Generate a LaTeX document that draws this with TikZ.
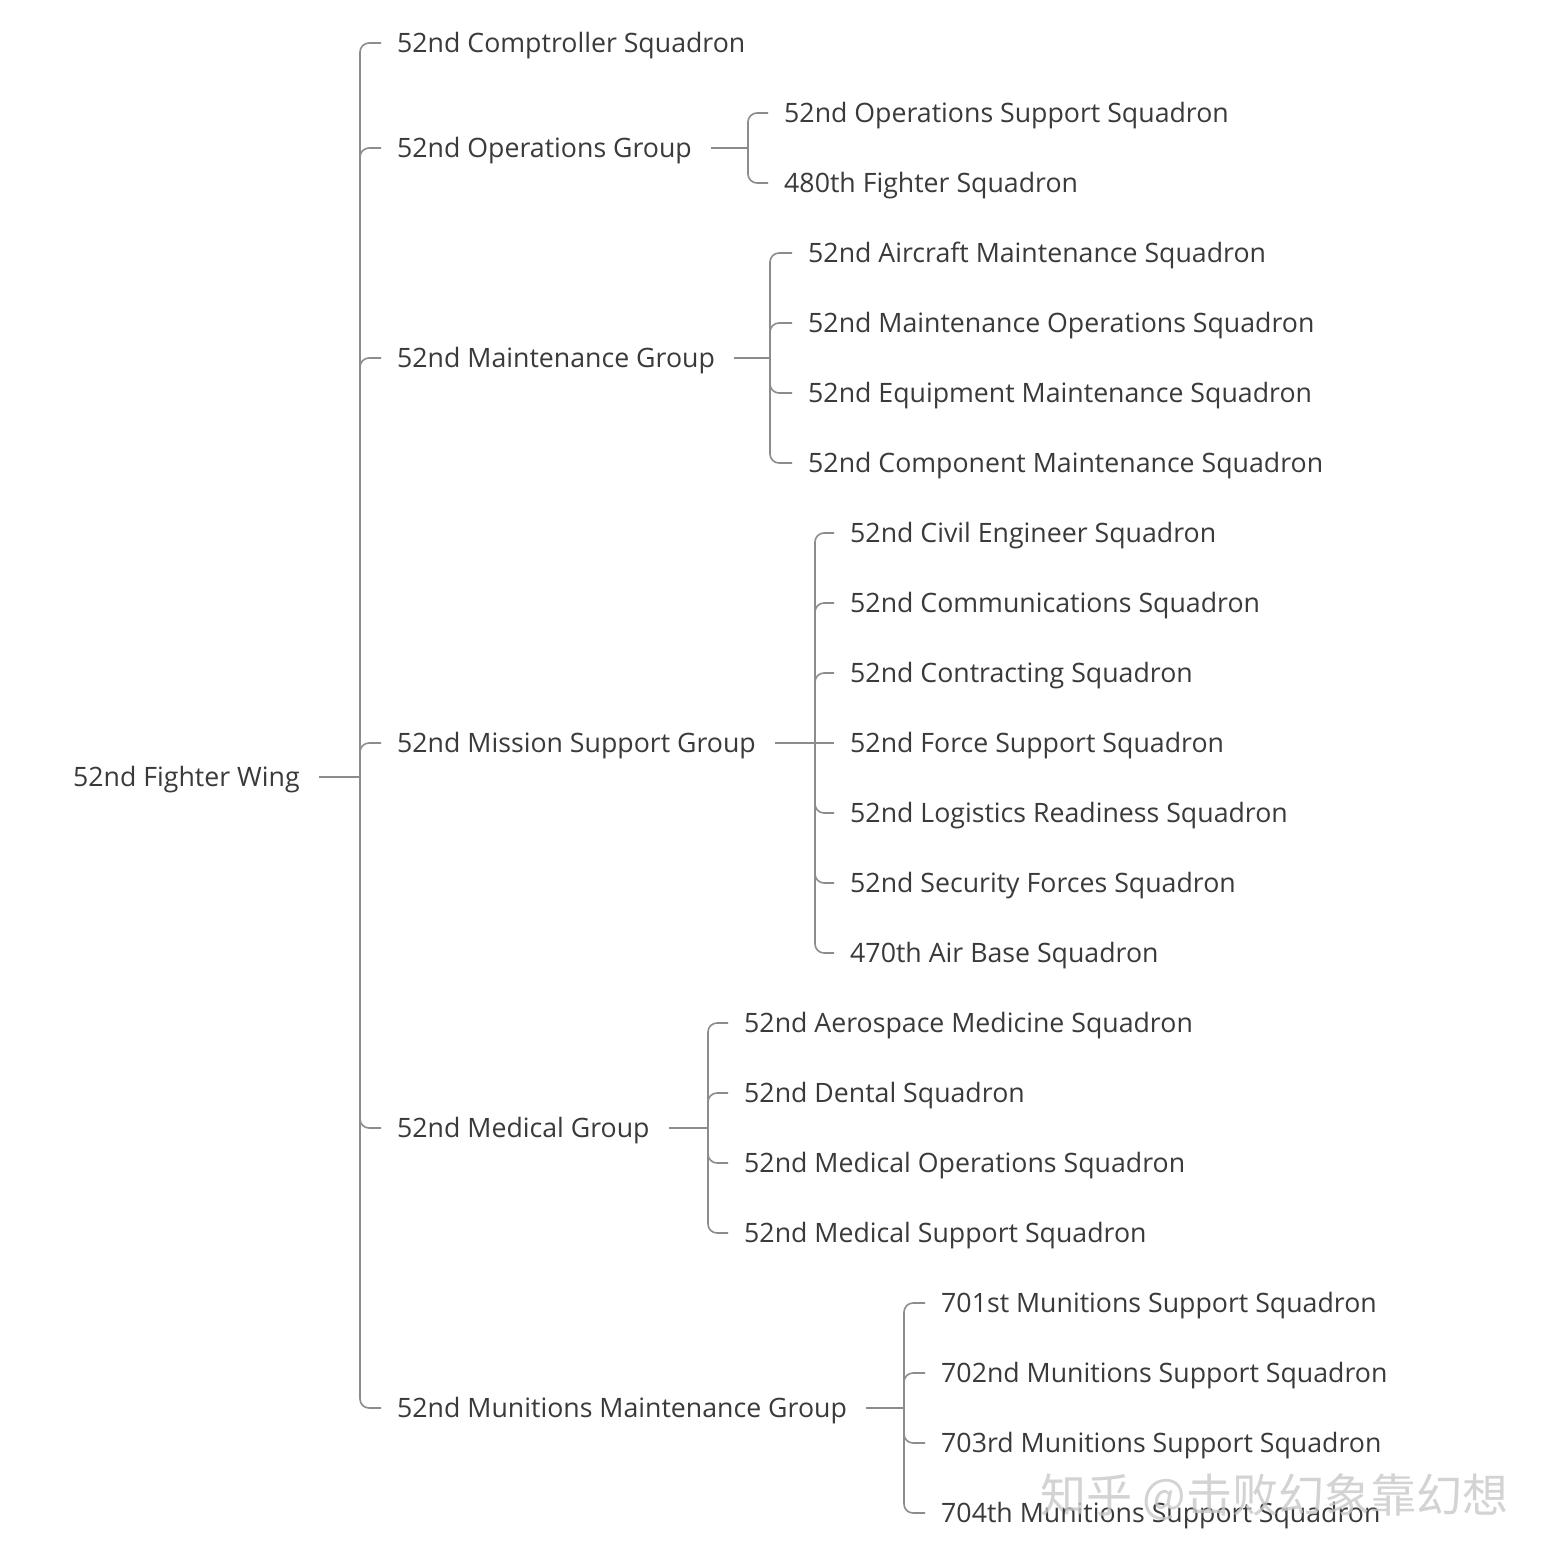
\documentclass[tikz,border=0pt]{standalone}
\usepackage{fontspec}
\setmainfont{Open Sans}
\newfontfamily\cjkwm{Noto Sans CJK SC}
\usetikzlibrary{calc}
\definecolor{txt}{HTML}{3A3A3A}
\definecolor{ln}{HTML}{8C8C8C}
\definecolor{wm}{HTML}{C8C8C8}
\newcommand\stubA[2]{\draw[link,rounded corners=9pt] ($(#2.west -| #1)+(0,14)$) |- ([xshift=-16pt]#2.west);}
\newcommand\stubB[2]{\draw[link,rounded corners=9pt] ($(#2.west -| #1)+(0,-14)$) |- ([xshift=-16pt]#2.west);}
\newcommand\stubC[2]{\draw[link] (#2.west -| #1) -- ([xshift=-16pt]#2.west);}
\newcommand\barline[3]{\draw[link] ($(#2.west -| #1)+(0,14)$) -- ($(#3.west -| #1)+(0,-14)$);}
\newcommand\plink[2]{\draw[link] ([xshift=19pt]#2.east) -- (#2.east -| #1);}
\begin{document}
\begin{tikzpicture}[x=1pt,y=-1pt,
  lbl/.style={anchor=west,inner sep=0pt,text=txt,text height=19.5pt,text depth=0pt,font=\fontsize{26.7}{31}\selectfont},
  link/.style={draw=ln,line width=1.6pt}]
\useasboundingbox (0,0) rectangle (1551,1561);
\fill[white] (0,0) rectangle (1551,1561);
% bars
\coordinate (b0) at (360,0);
\coordinate (b1) at (748,0);
\coordinate (b2) at (770,0);
\coordinate (b3) at (815,0);
\coordinate (b4) at (708,0);
\coordinate (b5) at (904,0);
% nodes
\node[lbl] (root) at (73,777) {52nd Fighter Wing};
\node[lbl] (comp) at (397,43) {52nd Comptroller Squadron};
\node[lbl] (ops) at (397,148) {52nd Operations Group};
\node[lbl] (mnt) at (397,358) {52nd Maintenance Group};
\node[lbl] (msg) at (397,743) {52nd Mission Support Group};
\node[lbl] (med) at (397,1128) {52nd Medical Group};
\node[lbl] (mun) at (397,1408) {52nd Munitions Maintenance Group};
\node[lbl] (ops1) at (784,113) {52nd Operations Support Squadron};
\node[lbl] (ops2) at (784,183) {480th Fighter Squadron};
\node[lbl] (mnt1) at (808,253) {52nd Aircraft Maintenance Squadron};
\node[lbl] (mnt2) at (808,323) {52nd Maintenance Operations Squadron};
\node[lbl] (mnt3) at (808,393) {52nd Equipment Maintenance Squadron};
\node[lbl] (mnt4) at (808,463) {52nd Component Maintenance Squadron};
\node[lbl] (msg1) at (850,533) {52nd Civil Engineer Squadron};
\node[lbl] (msg2) at (850,603) {52nd Communications Squadron};
\node[lbl] (msg3) at (850,673) {52nd Contracting Squadron};
\node[lbl] (msg4) at (850,743) {52nd Force Support Squadron};
\node[lbl] (msg5) at (850,813) {52nd Logistics Readiness Squadron};
\node[lbl] (msg6) at (850,883) {52nd Security Forces Squadron};
\node[lbl] (msg7) at (850,953) {470th Air Base Squadron};
\node[lbl] (med1) at (744,1023) {52nd Aerospace Medicine Squadron};
\node[lbl] (med2) at (744,1093) {52nd Dental Squadron};
\node[lbl] (med3) at (744,1163) {52nd Medical Operations Squadron};
\node[lbl] (med4) at (744,1233) {52nd Medical Support Squadron};
\node[lbl] (mun1) at (941,1303) {701st Munitions Support Squadron};
\node[lbl] (mun2) at (941,1373) {702nd Munitions Support Squadron};
\node[lbl] (mun3) at (941,1443) {703rd Munitions Support Squadron};
\node[lbl] (mun4) at (941,1513) {704th Munitions Support Squadron};
% root tree
\plink{b0}{root}
\barline{b0}{comp}{mun}
\stubA{b0}{comp}\stubA{b0}{ops}\stubA{b0}{mnt}\stubA{b0}{msg}
\stubB{b0}{med}\stubB{b0}{mun}
% ops
\plink{b1}{ops}
\barline{b1}{ops1}{ops2}
\stubA{b1}{ops1}\stubB{b1}{ops2}
% maintenance
\plink{b2}{mnt}
\barline{b2}{mnt1}{mnt4}
\stubA{b2}{mnt1}\stubA{b2}{mnt2}\stubB{b2}{mnt3}\stubB{b2}{mnt4}
% mission support
\plink{b3}{msg}
\barline{b3}{msg1}{msg7}
\stubA{b3}{msg1}\stubA{b3}{msg2}\stubA{b3}{msg3}\stubC{b3}{msg4}
\stubB{b3}{msg5}\stubB{b3}{msg6}\stubB{b3}{msg7}
% medical
\plink{b4}{med}
\barline{b4}{med1}{med4}
\stubA{b4}{med1}\stubA{b4}{med2}\stubB{b4}{med3}\stubB{b4}{med4}
% munitions
\plink{b5}{mun}
\barline{b5}{mun1}{mun4}
\stubA{b5}{mun1}\stubA{b5}{mun2}\stubB{b5}{mun3}\stubB{b5}{mun4}
% watermark
\node[anchor=west,inner sep=0pt,text=wm,opacity=0.8,font=\cjkwm\fontsize{46}{52}\selectfont] (wmark) at (1040,1497) {知乎 @击败幻象靠幻想};
\end{tikzpicture}
\end{document}
